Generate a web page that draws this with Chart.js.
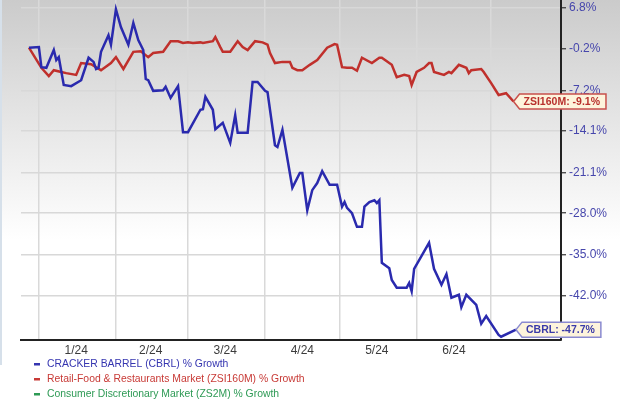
<!DOCTYPE html>
<html>
<head>
<meta charset="utf-8">
<script src="https://cdn.jsdelivr.net/npm/chart.js@4/dist/chart.umd.min.js"></script>
<style>
  html, body { margin: 0; padding: 0; background: #fff; }
  #wrap { width: 620px; height: 405px; }
</style>
</head>
<body>
<div id="wrap"><canvas id="myChart" width="620" height="405"></canvas></div>
<script>
// x values are days counted from 1 Jan 2024
const monthStartDays = [0, 31, 60, 91, 121, 152, 182];
const tickLabelDays = [15, 45, 75, 106, 136, 167];
const tickLabels = ["1/24", "2/24", "3/24", "4/24", "5/24", "6/24"];
const yTicks = [6.8, -0.2, -7.2, -14.1, -21.1, -28.0, -35.0, -42.0];

const cbrlDays = [-4, 0, 1, 3, 6, 7, 8, 10, 13, 17, 20, 22, 23, 24, 25, 28, 29, 31, 33, 36,
	38, 40, 42, 43, 44, 46, 50, 51, 53, 56, 58, 60, 65, 66, 67, 70, 71, 74, 77, 79,
	80, 84, 86, 88, 91, 92, 95, 96, 98, 102, 105, 106, 108, 110, 112, 114, 117, 120, 122, 123,
	124, 126, 128, 130, 131, 133, 135, 136, 137, 138, 141, 142, 144, 148, 149, 150, 151, 157, 159, 162,
	164, 166, 169, 170, 172, 176, 178, 180, 185, 186, 192];
const cbrlGrowth = [0, 0.1, -3.3, -3.4, -0.4, -2.1, -1.6, -6.3, -6.5, -5.5, -1.7, -2.4, -3.6, -3.4, -0.7, 2.1, 0.5, 6.5, 3.5, 0.5,
	4.2, 1.3, -0.4, -5.3, -5.5, -7.3, -7.2, -6.6, -8.5, -6.5, -14.3, -14.3, -10.5, -10.4, -8.3, -10.5, -13.8, -12.7, -16.1, -11.4,
	-14.4, -14.4, -5.8, -5.8, -7.3, -7.5, -16.5, -16.8, -13.9, -23.7, -21.2, -21.2, -27.5, -24.1, -22.9, -20.9, -23.2, -23.2, -26.9, -26.1,
	-27.1, -28.0, -30.3, -30.3, -26.9, -26.1, -25.8, -26.3, -25.8, -36.4, -37.3, -39.3, -40.6, -40.6, -39.8, -41.2, -37.4, -33.0, -37.4, -40.1,
	-38.3, -42.3, -41.8, -43.9, -41.8, -43.5, -46.7, -45.4, -48.6, -48.9, -47.7];

const zsiDays = [-4, 1, 4, 6, 9, 11, 15, 17, 21, 25, 29, 31, 34, 38, 41, 44, 46, 50, 53, 56,
	58, 60, 62, 65, 66, 70, 71, 73, 74, 77, 80, 82, 84, 87, 90, 92, 93, 95, 98, 101,
	102, 104, 106, 109, 112, 116, 119, 120, 122, 124, 126, 128, 130, 134, 137, 138, 142, 144, 147, 149,
	150, 152, 155, 157, 158, 159, 163, 165, 166, 169, 172, 173, 174, 178, 179, 182, 185, 188, 191];
const zsiGrowth = [0, -3.4, -4.8, -3.8, -4.1, -4.3, -4.6, -2.6, -2.8, -3.8, -2.6, -1.6, -3.6, -0.7, -0.6, -1.6, -0.9, -0.7, 1.1, 1.1,
	0.8, 0.9, 0.8, 0.9, 0.8, 1.1, 1.8, 0.1, -0.7, -0.7, 1.1, 0.1, -0.4, 1.1, 0.9, 0.5, -0.9, -2.6, -2.4, -2.4,
	-3.4, -3.8, -3.8, -2.9, -2.1, 0.0, 0.6, 0.5, -3.3, -3.4, -3.4, -3.9, -1.7, -2.6, -1.7, -1.7, -2.9, -5.0, -4.6, -4.8,
	-6.3, -4.1, -3.4, -2.6, -2.6, -4.1, -4.6, -4.1, -4.3, -2.9, -3.4, -4.3, -3.8, -3.6, -4.1, -6.0, -8.0, -7.7, -9.1];

const BLUE = "#2a2aae";
const RED = "#c0302c";
const GREEN = "#2e9a55";

const legendItems = [
	{ text: "CRACKER BARREL (CBRL) % Growth", color: "#3535b0" },
	{ text: "Retail-Food & Restaurants Market (ZSI160M) % Growth", color: "#c83a36" },
	{ text: "Consumer Discretionary Market (ZS2M) % Growth", color: "#2e9a55" },
];

function toPoints(xs, ys) {
	return xs.map((x, i) => ({ x: x, y: ys[i] }));
}

const backgroundPlugin = {
	id: "bg",
	beforeDraw(chart) {
		const c = chart.ctx;
		const g = c.createLinearGradient(0, 0, 0, 240);
		g.addColorStop(0, "#cbcbcb");
		g.addColorStop(0.55, "#e8e8e8");
		g.addColorStop(1, "#ffffff");
		c.save();
		c.fillStyle = g;
		c.fillRect(0, 0, chart.width, chart.height);
		c.fillStyle = "#d6e0ea";
		c.fillRect(0, 0, 2, 365);
		c.restore();
	},
};

const endLabelPlugin = {
	id: "endLabels",
	afterDraw(chart) {
		const c = chart.ctx;
		chart.data.datasets.forEach((ds, i) => {
			if (!ds.endLabel) return;
			const meta = chart.getDatasetMeta(i);
			const last = meta.data[meta.data.length - 1];
			if (!last) return;
			const tipX = last.x;
			const y = last.y;
			c.save();
			c.font = "bold 10.5px 'Liberation Sans', Arial, sans-serif";
			const w = c.measureText(ds.endLabel).width + 10;
			const h = 15;
			const bx = tipX + 6;
			c.beginPath();
			c.moveTo(tipX, y);
			c.lineTo(bx, y - h / 2);
			c.lineTo(bx + w, y - h / 2);
			c.lineTo(bx + w, y + h / 2);
			c.lineTo(bx, y + h / 2);
			c.closePath();
			c.fillStyle = "#fdf4dc";
			c.fill();
			c.lineWidth = 1.5;
			c.strokeStyle = ds.labelBorder;
			c.stroke();
			c.fillStyle = ds.labelColor;
			c.textBaseline = "middle";
			c.fillText(ds.endLabel, bx + 4, y + 0.5);
			c.restore();
		});
	},
};

const legendPlugin = {
	id: "stackLegend",
	afterDraw(chart) {
		const c = chart.ctx;
		c.save();
		c.font = "10.4px 'Liberation Sans', Arial, sans-serif";
		c.textBaseline = "middle";
		legendItems.forEach((item, i) => {
			const y = 364 + i * 15;
			c.fillStyle = item.color;
			c.fillRect(34, y - 1, 6, 2.5);
			c.fillText(item.text, 47, y);
		});
		c.restore();
	},
};

window.addEventListener("load", setup);

function setup() {
	const ctx = document.getElementById("myChart").getContext("2d");
	new Chart(ctx, {
		type: "line",
		data: {
			datasets: [
				{
					label: "CRACKER BARREL (CBRL) % Growth",
					data: toPoints(cbrlDays, cbrlGrowth),
					borderColor: BLUE,
					borderWidth: 2.5,
					pointRadius: 0,
					tension: 0,
					fill: false,
					endLabel: "CBRL: " + cbrlGrowth[cbrlGrowth.length - 1].toFixed(1) + "%",
					labelColor: "#3a3aa8",
					labelBorder: "#8a8ad0",
				},
				{
					label: "Retail-Food & Restaurants Market (ZSI160M) % Growth",
					data: toPoints(zsiDays, zsiGrowth),
					borderColor: RED,
					borderWidth: 2.5,
					pointRadius: 0,
					tension: 0,
					fill: false,
					endLabel: "ZSI160M: " + zsiGrowth[zsiGrowth.length - 1].toFixed(1) + "%",
					labelColor: "#b8302c",
					labelBorder: "#c8504c",
				},
				{
					label: "Consumer Discretionary Market (ZS2M) % Growth",
					data: [],
					borderColor: GREEN,
					pointRadius: 0,
				},
			],
		},
		options: {
			responsive: false,
			animation: false,
			events: [],
			layout: { padding: { left: 21, top: 0, right: 0, bottom: 0 } },
			plugins: { legend: { display: false }, tooltip: { enabled: false } },
			scales: {
				x: {
					type: "linear",
					min: -7.2,
					max: 210.1,
					afterBuildTicks(scale) {
						scale.ticks = monthStartDays.concat(tickLabelDays).map((v) => ({ value: v }));
					},
					afterFit(scale) {
						scale.height = 65;
						scale.paddingLeft = 0;
						scale.paddingRight = 0;
					},
					grid: {
						drawTicks: false,
						lineWidth: 1.5,
						color: (c) => (c.tick && monthStartDays.includes(c.tick.value) ? "#d9d9d9" : "rgba(0,0,0,0)"),
					},
					border: { display: true, color: "#222", width: 2 },
					ticks: {
						autoSkip: false,
						maxRotation: 0,
						padding: 3,
						color: "#3c3c3c",
						font: { family: "'Liberation Sans', Arial, sans-serif", size: 12 },
						callback: (v) => {
							const i = tickLabelDays.indexOf(v);
							return i >= 0 ? tickLabels[i] : "";
						},
					},
				},
				y: {
					position: "right",
					min: -49.45,
					max: 8.07,
					afterBuildTicks(scale) {
						scale.ticks = yTicks.map((v) => ({ value: v }));
					},
					afterFit(scale) {
						scale.width = 59;
						scale.paddingTop = 0;
						scale.paddingBottom = 0;
					},
					grid: {
						color: "#d8d8d8",
						lineWidth: 1.5,
						tickLength: 5,
						tickColor: "#333",
						tickWidth: 1.2,
					},
					border: { display: true, color: "#222", width: 2 },
					ticks: {
						padding: 3,
						color: "#4646ac",
						font: { family: "'Liberation Sans', Arial, sans-serif", size: 12 },
						callback: (v) => v.toFixed(1) + "%",
					},
				},
			},
		},
		plugins: [backgroundPlugin, endLabelPlugin, legendPlugin],
	});
}
</script>
</body>
</html>
